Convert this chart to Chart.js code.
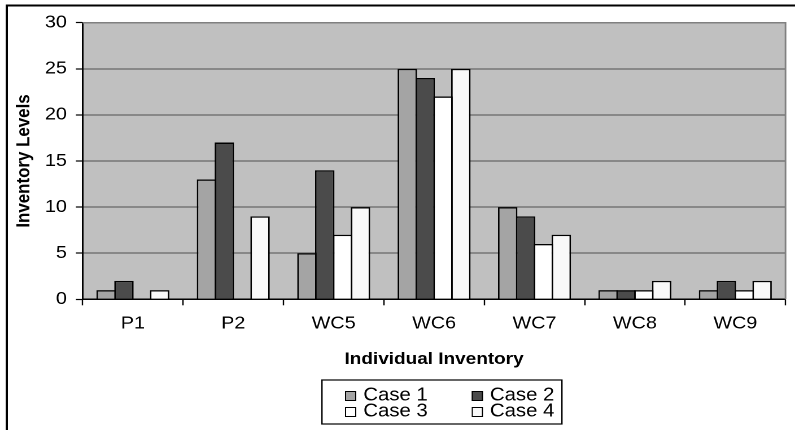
<!DOCTYPE html>
<html>
<head>
<meta charset="utf-8">
<script src="https://cdn.jsdelivr.net/npm/chart.js@4/dist/chart.umd.min.js"></script>
<style>
  html, body { margin: 0; padding: 0; background: #fff; overflow: hidden; }
  /* the drawing is laid out narrower and widened so the lettering comes out broad */
  #stage { width: 704px; height: 430px; transform: scaleX(1.12926); transform-origin: 0 0; }
  canvas { display: block; }
</style>
</head>
<body>
<div id="stage"><canvas id="chart" width="704" height="430"></canvas></div>
<script>
// Inventory levels per item for the four cases
const categories = ['P1', 'P2', 'WC5', 'WC6', 'WC7', 'WC8', 'WC9'];
const case1 = [1, 13, 5, 25, 10, 1, 1];
const case2 = [2, 17, 14, 24, 9, 1, 2];
const case3 = [0, 0, 7, 22, 6, 1, 1];
const case4 = [1, 9, 10, 25, 7, 2, 2];
const seriesNames = ['Case 1', 'Case 2', 'Case 3', 'Case 4'];
const yTicks = [0, 5, 10, 15, 20, 25, 30];

const FONT = "'Liberation Sans', Arial, Helvetica, sans-serif";
const fills = ['#A4A4A4', '#4B4B4B', '#FFFFFF', '#F9F9F9'];
const BAR_BORDER = 1.4;

// plot background, outer frame and plot outline
const framePlugin = {
  id: 'frame',
  beforeDraw(chart) {
    const { ctx, chartArea: a } = chart;
    ctx.save();
    ctx.fillStyle = '#FFFFFF';
    ctx.fillRect(0, 0, chart.width, chart.height);
    ctx.fillStyle = '#C0C0C0';
    ctx.fillRect(a.left, a.top, a.right - a.left, a.bottom - a.top);
    ctx.strokeStyle = '#000';
    ctx.lineWidth = 2;
    ctx.beginPath();
    ctx.moveTo(6, chart.height + 10);
    ctx.lineTo(6, 5.5);
    ctx.lineTo(chart.width + 10, 5.5);
    ctx.stroke();
    ctx.restore();
  },
  afterDraw(chart) {
    const { ctx, chartArea: a } = chart;
    ctx.save();
    ctx.strokeStyle = '#808080';
    ctx.lineWidth = 1.5;
    ctx.beginPath();
    ctx.moveTo(a.left, a.top);
    ctx.lineTo(a.right, a.top);
    ctx.lineTo(a.right, a.bottom);
    ctx.stroke();
    ctx.restore();
  }
};

// boxed two-column legend under the axis title
const boxLegend = {
  id: 'boxLegend',
  afterDraw(chart) {
    const { ctx } = chart;
    const box = { left: 285.1, top: 380, right: 497.6, bottom: 424 };
    const cols = [305.5, 417.7];
    const rows = [396, 412];
    const sw = 10;
    ctx.save();
    ctx.strokeStyle = '#000';
    ctx.lineWidth = 1.2;
    ctx.strokeRect(box.left, box.top, box.right - box.left, box.bottom - box.top);
    ctx.font = '18px ' + FONT;
    ctx.textBaseline = 'middle';
    ctx.textAlign = 'left';
    chart.data.datasets.forEach((ds, i) => {
      const x = cols[i % 2];
      const y = rows[Math.floor(i / 2)];
      ctx.fillStyle = ds.backgroundColor;
      ctx.fillRect(x, y - sw / 2, sw, sw);
      ctx.lineWidth = 1;
      ctx.strokeStyle = '#000';
      ctx.strokeRect(x + 0.5, y - sw / 2 + 0.5, sw - 1, sw - 1);
      ctx.fillStyle = '#000';
      ctx.fillText(ds.label, x + 16.2, y - 0.5);
    });
    ctx.restore();
  }
};

const seriesValues = [case1, case2, case3, case4];
const slot = 15.8;

new Chart(document.getElementById('chart'), {
  type: 'bar',
  data: {
    labels: categories,
    datasets: seriesValues.map((vals, i) => ({
      label: seriesNames[i],
      data: vals,
      backgroundColor: fills[i],
      borderColor: '#000',
      borderWidth: BAR_BORDER,
      categoryPercentage: 0.711,
      barPercentage: (slot + BAR_BORDER) / slot
    }))
  },
  options: {
    responsive: false,
    devicePixelRatio: 2,
    animation: false,
    layout: { padding: { top: 22.7, right: 8.4, bottom: 58.7, left: 0 } },
    plugins: {
      legend: { display: false },
      tooltip: { enabled: false }
    },
    scales: {
      x: {
        offset: true,
        grid: { drawOnChartArea: false, drawTicks: true, tickLength: 6, tickColor: '#000', tickWidth: 1.2, offset: true },
        border: { color: '#000', width: 1.5 },
        ticks: { color: '#000', padding: 8, font: { family: FONT, size: 17.5 }, maxRotation: 0 },
        title: {
          display: true, text: 'Individual Inventory', color: '#000',
          font: { family: FONT, size: 16.8, weight: 'bold' },
          padding: { top: 0, bottom: 1.7 }
        },
        afterFit(scale) { scale.height = 72; }
      },
      y: {
        min: 0,
        max: 30,
        afterBuildTicks(scale) { scale.ticks = yTicks.map(v => ({ value: v })); },
        grid: { color: '#505050', lineWidth: 1, tickLength: 6, tickColor: '#000', tickWidth: 1.2 },
        border: { color: '#000', width: 1.5 },
        ticks: { color: '#000', padding: 8, font: { family: FONT, size: 17.5 } },
        title: {
          display: true, text: 'Inventory Levels', color: '#000',
          font: { family: FONT, size: 16.9, weight: 'bold' },
          padding: { top: 11.1, bottom: 0 }
        },
        afterFit(scale) { scale.width = 73.2; }
      }
    }
  },
  plugins: [framePlugin, boxLegend]
});
</script>
</body>
</html>
